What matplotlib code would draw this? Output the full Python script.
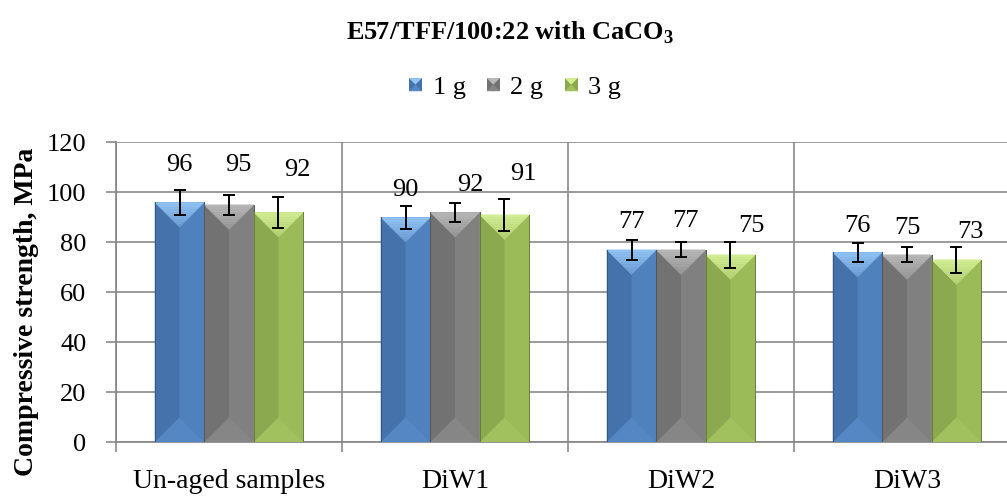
import matplotlib
matplotlib.use('Agg')
import matplotlib.pyplot as plt
import numpy as np
from matplotlib.patches import Polygon, Rectangle
from matplotlib.colors import to_rgb
from matplotlib.ticker import FixedLocator, NullFormatter

# ---------------- data ----------------
categories = ['Un-aged samples', 'DiW1', 'DiW2', 'DiW3']
series_names = ['1 g', '2 g', '3 g']
strength_1g = [96, 90, 77, 76]
strength_2g = [95, 92, 77, 75]
strength_3g = [92, 91, 75, 73]
err_1g = [5.0, 4.5, 3.9, 3.8]
err_2g = [4.0, 3.7, 3.0, 3.0]
err_3g = [6.3, 6.4, 5.3, 5.1]
y_ticks = [0, 20, 40, 60, 80, 100, 120]

# value-label offsets (pixels, relative to bar top centre)
label_dx_1g = [-0.5, 0, 0, 0]
label_dy_1g = [37, 27, 28, 26]
label_dx_2g = [9.5, 15.5, 5, 0]
label_dy_2g = [40, 27, 29, 26.5]
label_dx_3g = [18.5, 18.7, 21, 13.7]
label_dy_3g = [42, 41, 29, 28]

# ---------------- style ----------------
SERIF = ['Liberation Serif', 'DejaVu Serif']
plt.rcParams['font.family'] = SERIF
FS = 19
GRID = '#8a8a8a'

styles = [
    dict(base='#4F81BD', left='#4572AA', top='#92C4F4', bottom='#5487C4'),
    dict(base='#808080', left='#727272', top='#B8B8B8', bottom='#868686'),
    dict(base='#9BBB59', left='#8BAA4F', top='#D4EE94', bottom='#A1C05E'),
]

values = [strength_1g, strength_2g, strength_3g]
errors = [err_1g, err_2g, err_3g]
ldx = [label_dx_1g, label_dx_2g, label_dx_3g]
ldy = [label_dy_1g, label_dy_2g, label_dy_3g]

W, H = 1007, 497
fig = plt.figure(figsize=(W / 100, H / 100), dpi=100)
ax = fig.add_axes([116 / W, 54.7 / H, 904 / W, 300 / H])
ax.set_xlim(-0.5, len(categories) - 0.5)
ax.set_ylim(0, 120)

bw = 0.219
xc = np.arange(len(categories))

px_per_x = ax.bbox.width / (len(categories))
px_per_y = ax.bbox.height / 120.0


def mix(c1, c2, t):
    a = np.array(to_rgb(c1)); b = np.array(to_rgb(c2))
    return tuple(a * (1 - t) + b * t)


for j in range(3):
    st = styles[j]
    xs = xc + (j - 1) * bw
    bars = ax.bar(xs, values[j], width=bw, color=st['base'], linewidth=0, zorder=3)
    for p in bars.patches:
        x0 = p.get_x(); w = p.get_width(); h = p.get_height()
        cx = x0 + w / 2
        d = (w * px_per_x / 2) / px_per_y
        # left half (darker)
        ax.add_patch(Polygon([(x0, 0), (cx, d), (cx, h - d), (x0, h)], closed=True,
                             facecolor=st['left'], lw=0, zorder=3.1))
        # bottom triangle
        ax.add_patch(Polygon([(x0, 0), (x0 + w, 0), (cx, d)], closed=True,
                             facecolor=st['bottom'], lw=0, zorder=3.2))
        # top triangle with gradient bands
        n = 10
        for k in range(n):
            t0 = k / n
            tt = ((k + 0.5) / n) * 0.6
            col = mix(st['top'], st['base'], tt)
            ya = h - d * t0
            yb = h - d * (k + 1) / n
            xa0 = x0 + (w / 2) * t0
            xa1 = x0 + w - (w / 2) * t0
            xb0 = x0 + (w / 2) * (k + 1) / n
            xb1 = x0 + w - (w / 2) * (k + 1) / n
            ax.add_patch(Polygon([(xa0, ya), (xa1, ya), (xb1, yb), (xb0, yb)], closed=True,
                                 facecolor=col, edgecolor=col, lw=0.3, zorder=3.3))
        # thin edges
        edge = mix(st['left'], 'black', 0.25)
        ax.plot([x0, x0], [0, h], color=edge, lw=0.7, zorder=3.4)
        ax.plot([x0 + w, x0 + w], [0, h], color=edge, lw=0.7, zorder=3.4)
    ax.errorbar(xs, values[j], yerr=errors[j], fmt='none', ecolor='black',
                elinewidth=1.4, capsize=4, capthick=1.4, zorder=6)
    for i, v in enumerate(values[j]):
        ax.annotate(str(v), xy=(xs[i], v), xytext=(ldx[j][i], ldy[j][i]),
                    textcoords='offset pixels', ha='center', va='center',
                    fontsize=FS, family=SERIF, zorder=7)

# axes styling
for s in ['top', 'right']:
    ax.spines[s].set_visible(False)
for s in ['left', 'bottom']:
    ax.spines[s].set_color(GRID)
    ax.spines[s].set_linewidth(1.3)
    ax.spines[s].set_zorder(2)

ax.set_yticks(y_ticks)
ax.set_yticklabels([str(t) for t in y_ticks], fontsize=FS, family=SERIF)
ax.tick_params(axis='y', direction='out', length=7.2, width=1.2, color=GRID, pad=14)
ax.yaxis.grid(True, color=GRID, lw=1.2, zorder=1)

sep = np.arange(len(categories) + 1) - 0.5
ax.xaxis.set_major_locator(FixedLocator(sep))
ax.xaxis.set_major_formatter(NullFormatter())
ax.xaxis.set_minor_locator(FixedLocator(xc))
ax.set_xticklabels(categories, minor=True, fontsize=20, family=SERIF)
ax.tick_params(axis='x', which='major', direction='out', length=7.2, width=1.2, color=GRID)
ax.tick_params(axis='x', which='minor', length=0, pad=19)
ax.xaxis.grid(True, which='major', color=GRID, lw=1.2, zorder=1)
ax.set_axisbelow(True)

fig.text(27 / W, 1 - 312 / H, 'Compressive strength, MPa', rotation=90, ha='center', va='center',
         fontsize=20, fontweight='bold', family=SERIF)

fig.text(510 / W, 1 - 33 / H, r'E57/TFF/100:22 with CaCO$_\mathregular{3}$', ha='center', va='center',
         fontsize=19, fontweight='bold', family=SERIF)


class BevelHandler:
    def __init__(self, st):
        self.st = st

    def legend_artist(self, legend, orig_handle, fontsize, handlebox):
        x0, y0 = -handlebox.xdescent, -handlebox.ydescent
        w, h = handlebox.width, handlebox.height
        s = min(w, h)
        x0 = x0 + (w - s) / 2
        y0 = y0 + (h - s) / 2
        st = self.st
        tr = handlebox.get_transform()
        cx, cy = x0 + s / 2, y0 + s / 2
        arts = [
            Rectangle((x0, y0), s, s, facecolor=st['left'], lw=0, transform=tr),
            Polygon([(x0, y0 + s), (x0 + s, y0 + s), (cx, cy)], closed=True,
                    facecolor=st['top'], lw=0, transform=tr),
            Polygon([(x0, y0), (x0 + s, y0), (cx, cy)], closed=True,
                    facecolor=st['bottom'], lw=0, transform=tr),
        ]
        for a in arts:
            handlebox.add_artist(a)
        return arts[0]


handles = [Rectangle((0, 0), 1, 1, color=st['base']) for st in styles]
fig.legend(handles, series_names, loc='center', bbox_to_anchor=(515 / W, 1 - 88 / H),
           ncol=3, frameon=False, prop={'family': SERIF, 'size': FS},
           handlelength=0.5, handleheight=0.5, handletextpad=0.4, columnspacing=0.8,
           handler_map={handles[k]: BevelHandler(styles[k]) for k in range(3)})

ax.set_xlim(-0.5, len(categories) - 0.5)
ax.set_ylim(0, 120)
fig.savefig('out.png', dpi=100)
